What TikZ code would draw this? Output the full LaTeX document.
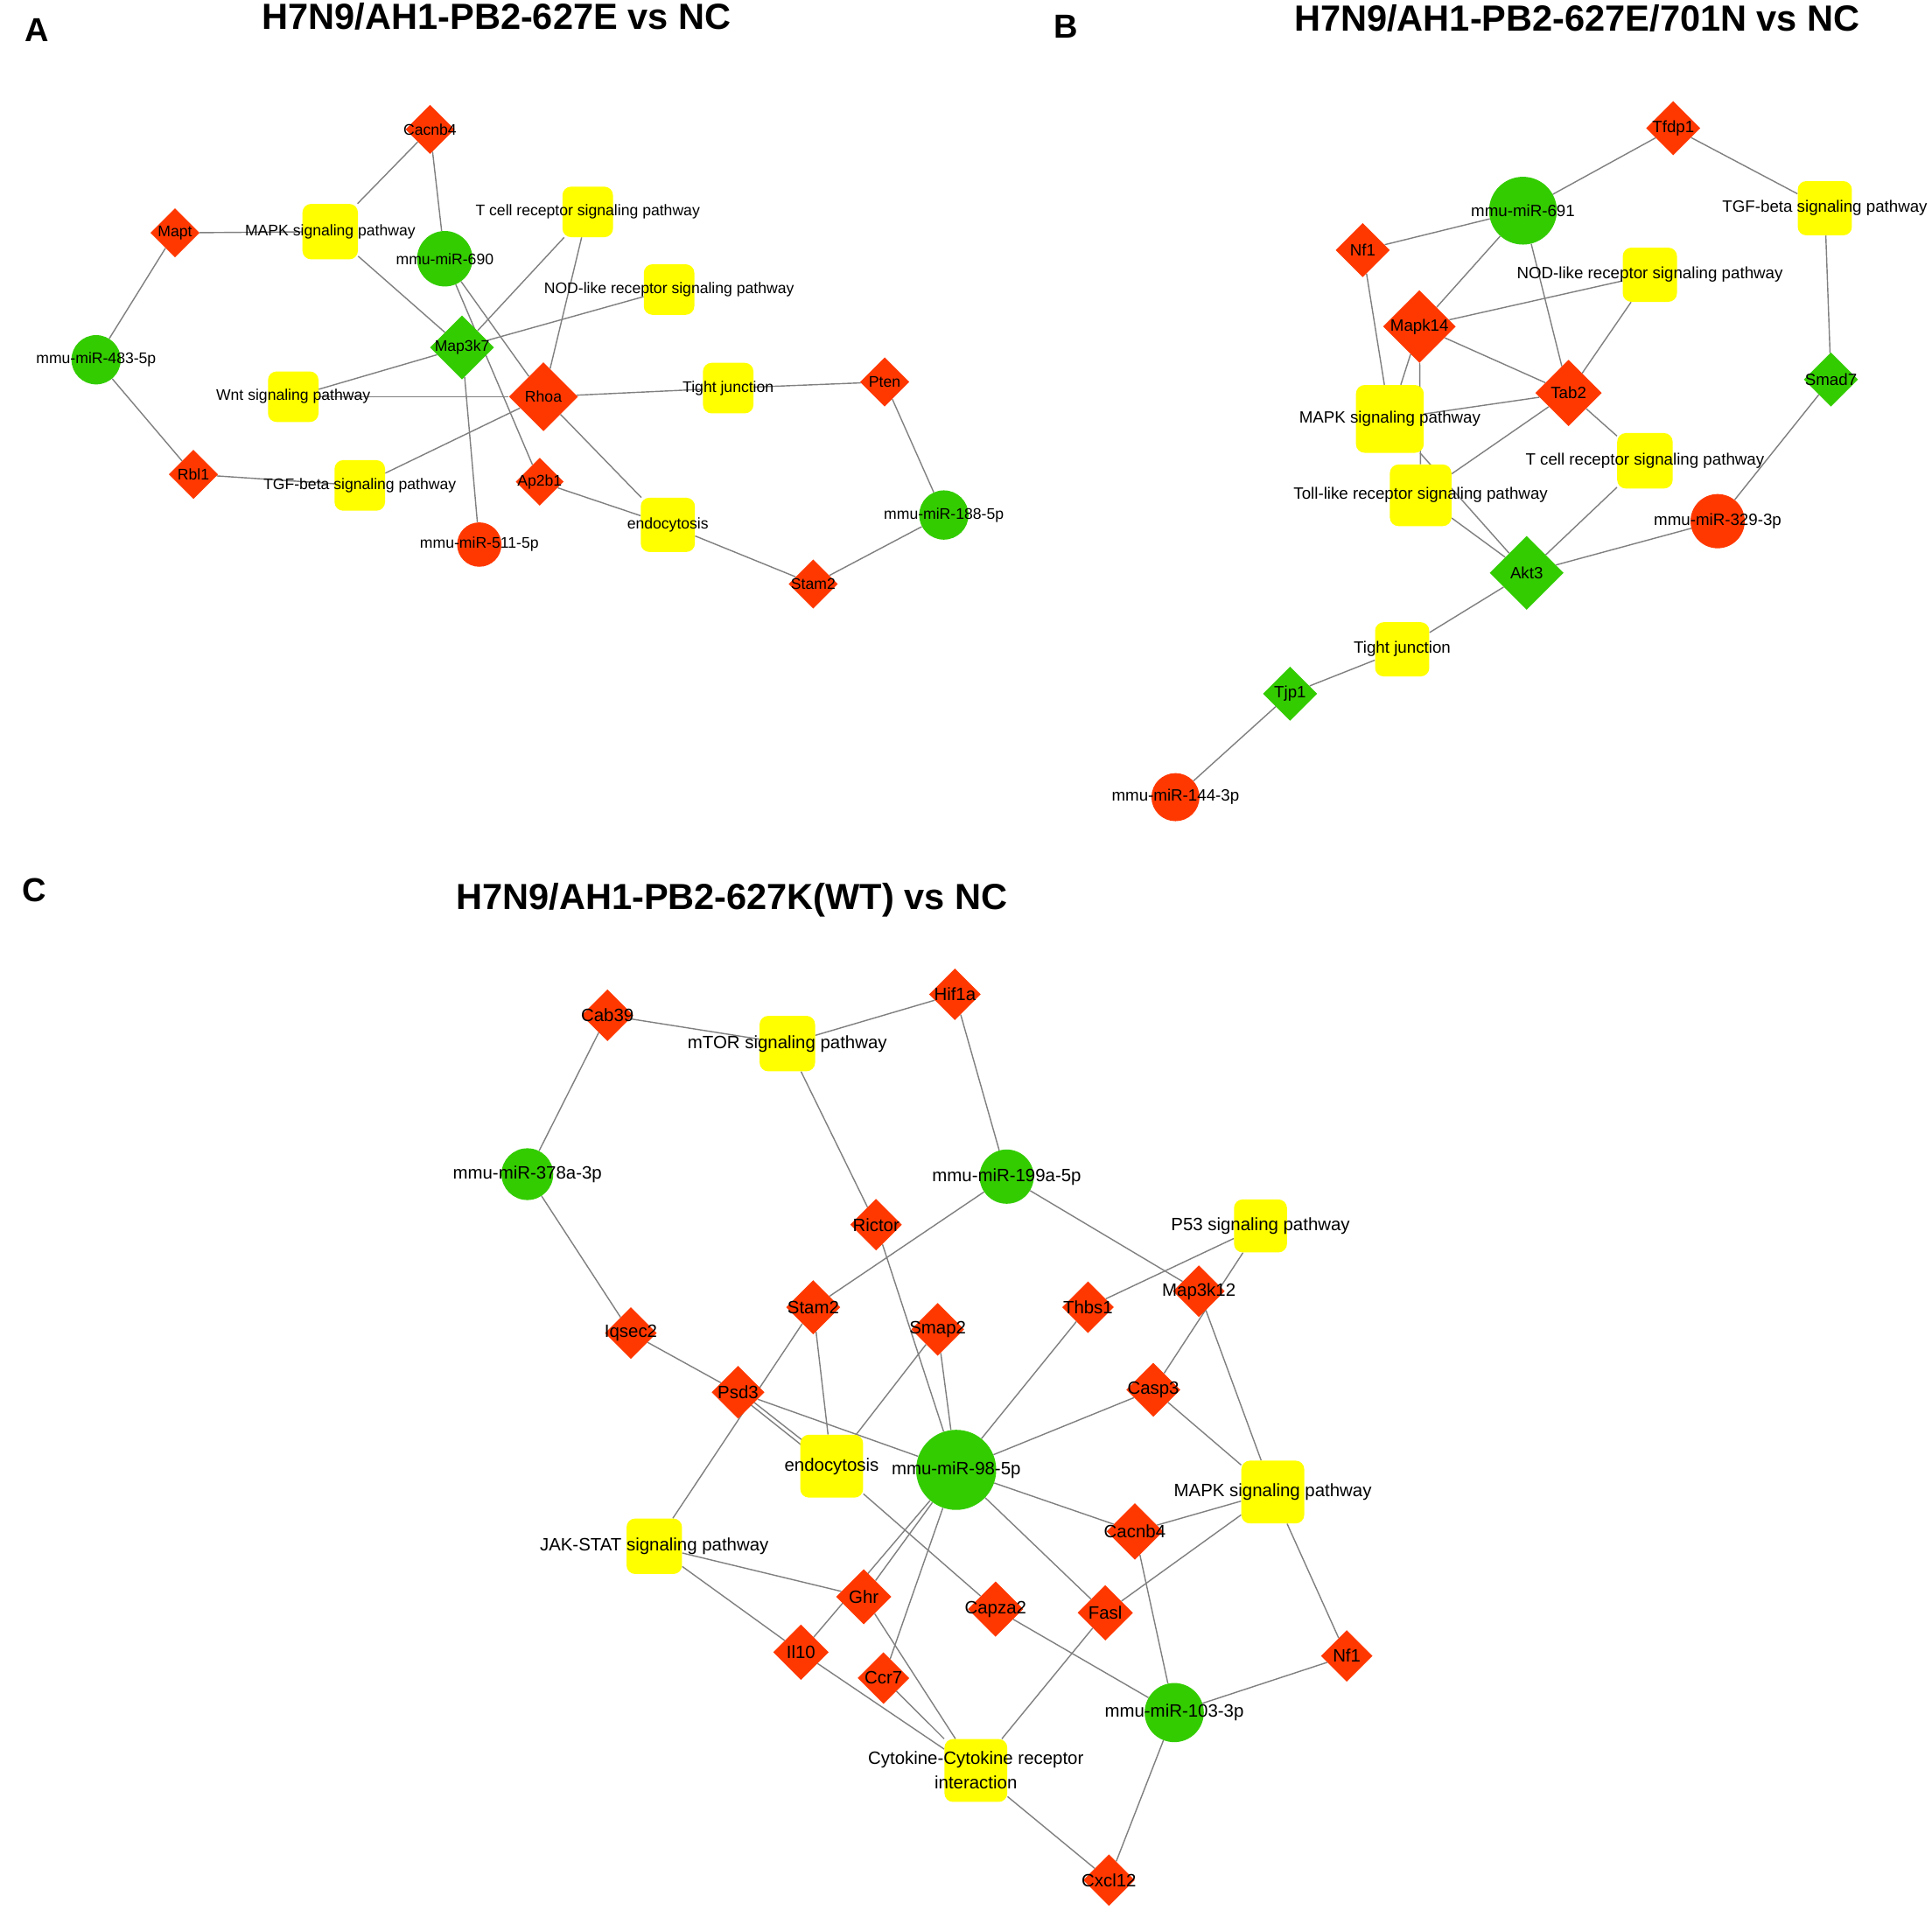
\documentclass[tikz,border=0pt]{standalone}
\usepackage{fontspec}
\setmainfont{Liberation Sans}
\usetikzlibrary{shapes.geometric,backgrounds}
\definecolor{nred}{RGB}{255,56,0}
\definecolor{ngreen}{RGB}{51,204,0}
\definecolor{nyellow}{RGB}{255,255,0}
\definecolor{edgegray}{RGB}{128,128,128}
\begin{document}
\begin{tikzpicture}[x=1pt,y=-1pt,
  rd/.style={diamond,fill=nred,inner sep=0pt,minimum size=#1},
  gd/.style={diamond,fill=ngreen,inner sep=0pt,minimum size=#1},
  rc/.style={circle,fill=nred,inner sep=0pt,minimum size=#1},
  gc/.style={circle,fill=ngreen,inner sep=0pt,minimum size=#1},
  pw/.style={rectangle,rounded corners=7pt,fill=nyellow,inner sep=0pt,minimum size=#1},
  fa/.style={font=\fontsize{12.5}{15}\selectfont,inner sep=0pt},
  fb/.style={font=\fontsize{13.3}{16}\selectfont,inner sep=0pt},
  fc/.style={font=\fontsize{14.5}{20}\selectfont,inner sep=0pt},
  lnk/.style={draw=edgegray,line width=1pt},
  ttl/.style={font=\fontsize{29.5}{35}\selectfont\bfseries,anchor=base,inner sep=0pt},
  plet/.style={font=\fontsize{27}{32}\selectfont\bfseries,anchor=base,inner sep=0pt},
]
\useasboundingbox (0,0) rectangle (1568,1550);
\begin{scope}[on background layer]
\fill[white] (0,0) rectangle (1568,1550);
\end{scope}

% ---------- titles ----------
\node[plet] (letA) at (30,34) {A};
\node[plet] (letB) at (865,31) {B};
\node[plet] (letC) at (28,732) {C};
\node[ttl] (titA) at (403,24) {H7N9/AH1-PB2-627E vs NC};
\node[ttl] (titB) at (1280,25) {H7N9/AH1-PB2-627E/701N vs NC};
\node[ttl] (titC) at (594,738) {H7N9/AH1-PB2-627K(WT) vs NC};

% ---------- panel A ----------
\node[rd=40pt,label={[fa]center:Cacnb4}] (aCacnb4) at (349,105) {};
\node[rd=40pt,label={[fa]center:Mapt}] (aMapt) at (142,189) {};
\node[pw=45pt,label={[fa]center:MAPK signaling pathway}] (aMAPK) at (268,188) {};
\node[gc=45pt,label={[fa]center:mmu-miR-690}] (a690) at (361,210) {};
\node[pw=41pt,label={[fa]center:T cell receptor signaling pathway}] (aTcell) at (477,172) {};
\node[pw=41pt,label={[fa]center:NOD-like receptor signaling pathway}] (aNOD) at (543,235) {};
\node[gc=40pt,label={[fa]center:mmu-miR-483-5p}] (a483) at (78,292) {};
\node[gd=52pt,label={[fa]center:Map3k7}] (aMap3k7) at (375,282) {};
\node[pw=41pt,label={[fa]center:Wnt signaling pathway}] (aWnt) at (238,322) {};
\node[rd=56pt,label={[fa]center:Rhoa}] (aRhoa) at (441,322) {};
\node[pw=41pt,label={[fa]center:Tight junction}] (aTJ) at (591,315) {};
\node[rd=40pt,label={[fa]center:Pten}] (aPten) at (718,310) {};
\node[rd=40pt,label={[fa]center:Rbl1}] (aRbl1) at (157,385) {};
\node[pw=41pt,label={[fa]center:TGF-beta signaling pathway}] (aTGF) at (292,394) {};
\node[rd=39pt,label={[fa]center:Ap2b1}] (aAp2b1) at (438,391) {};
\node[pw=44pt,label={[fa]center:endocytosis}] (aEndo) at (542,426) {};
\node[rc=36pt,label={[fa]center:mmu-miR-511-5p}] (a511) at (389,442) {};
\node[gc=40pt,label={[fa]center:mmu-miR-188-5p}] (a188) at (766,418) {};
\node[rd=40pt,label={[fa]center:Stam2}] (aStam2) at (660,474) {};

% ---------- panel B ----------
\node[rd=44pt,label={[fb]center:Tfdp1}] (bTfdp1) at (1358,104) {};
\node[gc=55pt,label={[fb]center:mmu-miR-691}] (b691) at (1236,171) {};
\node[pw=44pt,label={[fb]center:TGF-beta signaling pathway}] (bTGF) at (1481,169) {};
\node[rd=44pt,label={[fb]center:Nf1}] (bNf1) at (1106,203) {};
\node[pw=44pt,label={[fb]center:NOD-like receptor signaling pathway}] (bNOD) at (1339,223) {};
\node[rd=59pt,label={[fb]center:Mapk14}] (bMapk14) at (1152,265) {};
\node[gd=44pt,label={[fb]center:Smad7}] (bSmad7) at (1486,308) {};
\node[rd=54pt,label={[fb]center:Tab2}] (bTab2) at (1273,319) {};
\node[pw=55pt,label={[fb]center:MAPK signaling pathway}] (bMAPK) at (1128,340) {};
\node[pw=45pt,label={[fb]center:T cell receptor signaling pathway}] (bTcell) at (1335,374) {};
\node[pw=50pt,label={[fb]center:Toll-like receptor signaling pathway}] (bToll) at (1153,402) {};
\node[rc=44pt,label={[fb]center:mmu-miR-329-3p}] (b329) at (1394,423) {};
\node[gd=60pt,label={[fb]center:Akt3}] (bAkt3) at (1239,465) {};
\node[pw=44pt,label={[fb]center:Tight junction}] (bTJ) at (1138,527) {};
\node[gd=44pt,label={[fb]center:Tjp1}] (bTjp1) at (1047,563) {};
\node[rc=39pt,label={[fb]center:mmu-miR-144-3p}] (b144) at (954,647) {};

% ---------- panel C ----------
\node[rd=42pt,label={[fc]center:Cab39}] (cCab39) at (493,824) {};
\node[rd=42pt,label={[fc]center:Hif1a}] (cHif1a) at (775,807) {};
\node[pw=45pt,label={[fc]center:mTOR signaling pathway}] (cmTOR) at (639,847) {};
\node[gc=42pt,label={[fc]center:mmu-miR-378a-3p}] (c378) at (428,953) {};
\node[gc=44pt,label={[fc]center:mmu-miR-199a-5p}] (c199) at (817,955) {};
\node[pw=43pt,label={[fc]center:P53 signaling pathway}] (cP53) at (1023,995) {};
\node[rd=42pt,label={[fc]center:Rictor}] (cRictor) at (711,994) {};
\node[rd=42pt,label={[fc]center:Map3k12}] (cMap3k12) at (973,1048) {};
\node[rd=42pt,label={[fc]center:Thbs1}] (cThbs1) at (883,1061) {};
\node[rd=44pt,label={[fc]center:Stam2}] (cStam2) at (660,1061) {};
\node[rd=43pt,label={[fc]center:Smap2}] (cSmap2) at (761,1079) {};
\node[rd=42pt,label={[fc]center:Iqsec2}] (cIqsec2) at (512,1082) {};
\node[rd=43pt,label={[fc]center:Psd3}] (cPsd3) at (599,1130) {};
\node[rd=44pt,label={[fc]center:Casp3}] (cCasp3) at (936,1128) {};
\node[pw=51pt,label={[fc]center:endocytosis}] (cEndo) at (675,1190) {};
\node[gc=65pt,label={[fc]center:mmu-miR-98-5p}] (c98) at (776,1193) {};
\node[pw=51pt,label={[fc]center:MAPK signaling pathway}] (cMAPK) at (1033,1211) {};
\node[pw=45pt,label={[fc]center:JAK-STAT signaling pathway}] (cJAK) at (531,1255) {};
\node[rd=46pt,label={[fc]center:Cacnb4}] (cCacnb4) at (921,1243) {};
\node[rd=45pt,label={[fc]center:Ghr}] (cGhr) at (701,1296) {};
\node[rd=45pt,label={[fc]center:Capza2}] (cCapza2) at (808,1306) {};
\node[rd=45pt,label={[fc]center:Fasl}] (cFasl) at (897,1309) {};
\node[rd=45pt,label={[fc]center:Il10}] (cIl10) at (650,1341) {};
\node[rd=42pt,label={[fc]center:Nf1}] (cNf1) at (1093,1344) {};
\node[rd=42pt,label={[fc]center:Ccr7}] (cCcr7) at (717,1362) {};
\node[gc=48pt,label={[fc]center:mmu-miR-103-3p}] (c103) at (953,1390) {};
\node[pw=51pt,label={[fc,align=center]center:Cytokine-Cytokine receptor\\interaction}] (cCyto) at (792,1437) {};
\node[rd=42pt,label={[fc]center:Cxcl12}] (cCxcl12) at (900,1526) {};

% ---------- edges ----------
\begin{scope}[on background layer]
% panel A
\draw[lnk] (aCacnb4) -- (aMAPK);
\draw[lnk] (aCacnb4) -- (a690);
\draw[lnk] (aMapt) -- (aMAPK);
\draw[lnk] (aMapt) -- (a483);
\draw[lnk] (aMAPK) -- (aMap3k7);
\draw[lnk] (a690) -- (aRhoa);
\draw[lnk] (a690) -- (aAp2b1);
\draw[lnk] (aTcell) -- (aMap3k7);
\draw[lnk] (aTcell) -- (aRhoa);
\draw[lnk] (aNOD) -- (aMap3k7);
\draw[lnk] (aMap3k7) -- (aWnt);
\draw[lnk] (aMap3k7) -- (a511);
\draw[lnk] (aWnt) -- (aRhoa);
\draw[lnk] (aRhoa) -- (aTJ);
\draw[lnk] (aTJ) -- (aPten);
\draw[lnk] (aRhoa) -- (aTGF);
\draw[lnk] (aRhoa) -- (aEndo);
\draw[lnk] (aPten) -- (a188);
\draw[lnk] (a483) -- (aRbl1);
\draw[lnk] (aRbl1) -- (aTGF);
\draw[lnk] (aAp2b1) -- (aEndo);
\draw[lnk] (aEndo) -- (aStam2);
\draw[lnk] (aStam2) -- (a188);
% panel B
\draw[lnk] (bTfdp1) -- (b691);
\draw[lnk] (bTfdp1) -- (bTGF);
\draw[lnk] (bTGF) -- (bSmad7);
\draw[lnk] (bSmad7) -- (b329);
\draw[lnk] (b691) -- (bNf1);
\draw[lnk] (b691) -- (bMapk14);
\draw[lnk] (b691) -- (bTab2);
\draw[lnk] (bNf1) -- (bMAPK);
\draw[lnk] (bMapk14) -- (bNOD);
\draw[lnk] (bMapk14) -- (bMAPK);
\draw[lnk] (bMapk14) -- (bToll);
\draw[lnk] (bMapk14) -- (bTab2);
\draw[lnk] (bMAPK) -- (bTab2);
\draw[lnk] (bMAPK) -- (bAkt3);
\draw[lnk] (bTab2) -- (bNOD);
\draw[lnk] (bTab2) -- (bToll);
\draw[lnk] (bTab2) -- (bTcell);
\draw[lnk] (bTcell) -- (bAkt3);
\draw[lnk] (bToll) -- (bAkt3);
\draw[lnk] (bAkt3) -- (b329);
\draw[lnk] (bAkt3) -- (bTJ);
\draw[lnk] (bTJ) -- (bTjp1);
\draw[lnk] (bTjp1) -- (b144);
% panel C
\draw[lnk] (cCab39) -- (cmTOR);
\draw[lnk] (cmTOR) -- (cHif1a);
\draw[lnk] (cCab39) -- (c378);
\draw[lnk] (cHif1a) -- (c199);
\draw[lnk] (cmTOR) -- (cRictor);
\draw[lnk] (c378) -- (cIqsec2);
\draw[lnk] (cRictor) -- (c98);
\draw[lnk] (c199) -- (cStam2);
\draw[lnk] (c199) -- (cMap3k12);
\draw[lnk] (cP53) -- (cThbs1);
\draw[lnk] (cP53) -- (cCasp3);
\draw[lnk] (cMap3k12) -- (cMAPK);
\draw[lnk] (cIqsec2) -- (cPsd3);
\draw[lnk] (cStam2) -- (cJAK);
\draw[lnk] (cStam2) -- (cEndo);
\draw[lnk] (cSmap2) -- (cEndo);
\draw[lnk] (cSmap2) -- (c98);
\draw[lnk] (cThbs1) -- (c98);
\draw[lnk] ([yshift=-2pt]cPsd3.center) -- ([xshift=-3pt]cEndo.center);
\draw[lnk] ([yshift=2pt]cPsd3.center) -- ([xshift=3pt]cEndo.center);
\draw[lnk] (cPsd3) -- (c98);
\draw[lnk] (cEndo) -- (cCapza2);
\draw[lnk] (cCasp3) -- (c98);
\draw[lnk] (cCasp3) -- (cMAPK);
\draw[lnk] (cMAPK) -- (cCacnb4);
\draw[lnk] (cMAPK) -- (cFasl);
\draw[lnk] (cMAPK) -- (cNf1);
\draw[lnk] (c98) -- (cCacnb4);
\draw[lnk] (c98) -- (cFasl);
\draw[lnk] (c98) -- (cGhr);
\draw[lnk] (c98) -- (cIl10);
\draw[lnk] (c98) -- (cCcr7);
\draw[lnk] (cCacnb4) -- (c103);
\draw[lnk] (cCapza2) -- (c103);
\draw[lnk] (cNf1) -- (c103);
\draw[lnk] (c103) -- (cCxcl12);
\draw[lnk] (cCyto) -- (cCxcl12);
\draw[lnk] (cFasl) -- (cCyto);
\draw[lnk] (cJAK) -- (cGhr);
\draw[lnk] (cJAK) -- (cIl10);
\draw[lnk] (cIl10) -- (cCyto);
\draw[lnk] (cCcr7) -- (cCyto);
\draw[lnk] (cGhr) -- (cCyto);
\end{scope}
\end{tikzpicture}
\end{document}
